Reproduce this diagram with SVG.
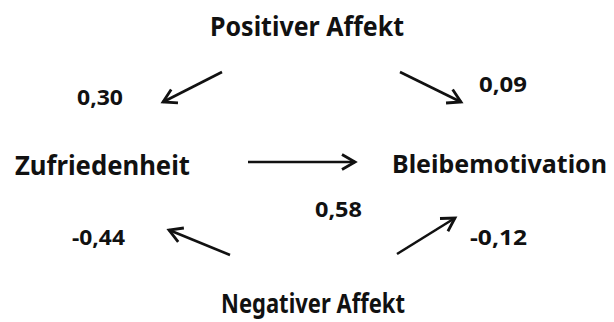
<svg xmlns="http://www.w3.org/2000/svg" width="614" height="322" viewBox="0 0 614 322">
<defs>
<style>
.lbl{font-family:"Noto Sans","Open Sans","DejaVu Sans",sans-serif;font-weight:bold;font-size:26px;fill:#111}
.num{font-family:"Noto Sans","Open Sans","DejaVu Sans",sans-serif;font-weight:bold;font-size:21px;fill:#111}
.arr{stroke:#111;stroke-width:2.6;fill:none;marker-end:url(#head)}
</style>
<marker id="head" markerUnits="userSpaceOnUse" markerWidth="20" markerHeight="20" refX="16" refY="10" orient="auto" viewBox="0 0 20 20">
<path d="M3,2.5 L16,10 L3,17.5" fill="none" stroke="#111" stroke-width="2.8" stroke-linejoin="miter"/>
</marker>
</defs>
<rect width="614" height="322" fill="#fff"/>
<g id="positiver-affekt"><text class="lbl" x="210" y="36" textLength="194" lengthAdjust="spacingAndGlyphs">Positiver Affekt</text></g>
<g id="zufriedenheit"><text class="lbl" x="15" y="175" textLength="175" lengthAdjust="spacingAndGlyphs">Zufriedenheit</text></g>
<g id="bleibemotivation"><text class="lbl" x="392" y="173" textLength="215" lengthAdjust="spacingAndGlyphs" style="font-size:25px">Bleibemotivation</text></g>
<g id="negativer-affekt"><text class="lbl" x="221" y="313" textLength="184" lengthAdjust="spacingAndGlyphs">Negativer Affekt</text></g>
<g id="connectors">
<line class="arr" x1="222" y1="72" x2="163" y2="102"/>
<line class="arr" x1="400" y1="72" x2="461" y2="102"/>
<line class="arr" x1="248" y1="162" x2="355" y2="162"/>
<line class="arr" x1="230" y1="255" x2="169" y2="230"/>
<line class="arr" x1="397" y1="254" x2="455" y2="218"/>
</g>
<g id="labels">
<text class="num" x="77" y="105" textLength="46" lengthAdjust="spacingAndGlyphs">0,30</text>
<text class="num" x="479" y="92" textLength="48" lengthAdjust="spacingAndGlyphs">0,09</text>
<text class="num" x="315" y="217" textLength="47" lengthAdjust="spacingAndGlyphs">0,58</text>
<text class="num" x="72" y="245" textLength="53" lengthAdjust="spacingAndGlyphs">-0,44</text>
<text class="num" x="470" y="245" textLength="57" lengthAdjust="spacingAndGlyphs">-0,12</text>
</g>
</svg>
